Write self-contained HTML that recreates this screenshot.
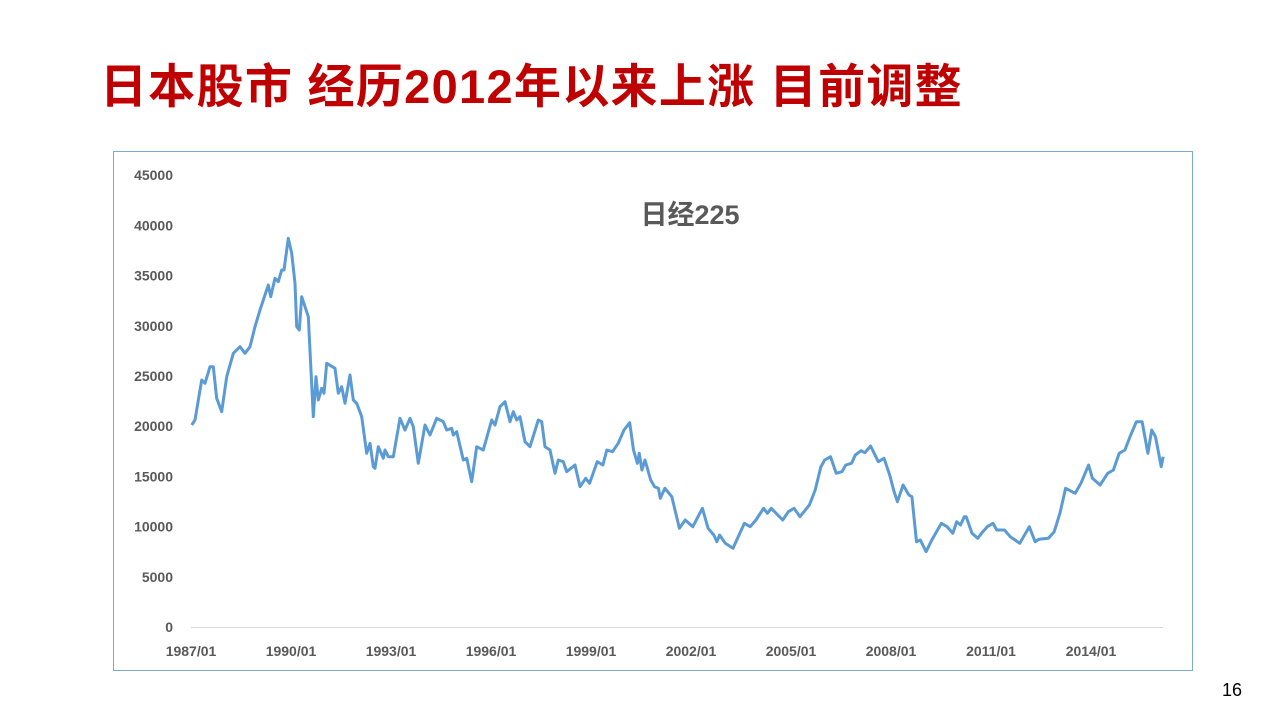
<!DOCTYPE html>
<html><head><meta charset="utf-8"><style>
body{margin:0;width:1280px;height:720px;background:#fff;position:relative;overflow:hidden;font-family:"Liberation Sans","Noto Sans CJK SC",sans-serif}
.t{position:absolute;left:100px;top:48px;font-size:47px;font-weight:bold;color:#C00000;white-space:nowrap;letter-spacing:1.3px}
.pg{position:absolute;left:1222px;top:680px;font-size:18px;color:#000}
</style></head><body>
<div class="t">日本股市 经历2012年以来上涨 目前调整</div>
<svg width="1280" height="720" style="position:absolute;left:0;top:0" id="s">
<rect x="113.5" y="151.5" width="1079" height="519" fill="none" stroke="#7aaad0" stroke-width="1"/>
<line x1="191" y1="627.5" x2="1163" y2="627.5" stroke="#d9d9d9" stroke-width="1"/>
<text x="690" y="224" font-size="27" font-weight="bold" fill="#595959" text-anchor="middle" font-family="Liberation Sans,Noto Sans CJK SC,sans-serif">日经225</text>
<g id="ax" font-size="14" font-weight="bold" fill="#595959" font-family="Liberation Sans,sans-serif"></g>
<polyline id="pl" fill="none" stroke="#5b9bd5" stroke-width="3" stroke-linejoin="round"/>
</svg>
<div class="pg">16</div>
<script>
var ax=document.getElementById('ax'),h='';
for(var i=0;i<=9;i++){var y=627-i*50.2;h+='<text x="173" y="'+(y+5)+'" text-anchor="end">'+(i*5000)+'</text>';}
var yrs=['1987/01','1990/01','1993/01','1996/01','1999/01','2002/01','2005/01','2008/01','2011/01','2014/01'];
for(var i=0;i<yrs.length;i++){h+='<text x="'+(191+i*100)+'" y="656" text-anchor="middle">'+yrs[i]+'</text>';}
ax.innerHTML=h;
var z1=[35,615,45,600,65,480,75,490,90,440,100,440,110,535,125,575,140,470,160,400,180,380,195,400,210,380,225,320,240,270,265,195,272,230,285,175,295,185,305,150,312,150,325,55,335,100,345,190,350,320,358,330,365,230,385,290,400,590,408,470,415,540,425,505,432,520,440,430,465,445,475,520,485,500,495,550,510,465,520,540,530,550,545,590,560,700,570,670,580,740,585,745,595,680,610,715,615,690,625,710,640,710,660,595,675,630,690,595,700,620,715,730,735,615,750,645,770,595,790,605,800,630,815,625,820,645,830,635,850,720,860,715,875,785,890,680,910,690,935,600,945,615,960,560,975,545,990,605,1000,575,1010,600,1020,590,1035,665,1050,680,1075,600,1085,605,1095,680,1110,690,1125,760,1135,720,1150,725,1160,755,1185,735,1200,800];
var z2=[0,340,15,295,25,310,45,245,60,255,70,210,85,215,100,190,115,150,130,128,140,210,150,250,155,220,162,270,170,240,185,300,195,320,205,325,210,355,222,325,240,350,260,445,275,420,295,440,320,385,335,445,350,465,358,485,365,465,380,490,400,505,430,430,445,440,460,420,480,385,490,400,500,385,530,420,545,395,560,385,575,410,600,375,615,330,630,260,640,240,655,230,670,280,685,275,695,255,710,250,720,225,735,212,745,218,760,198,780,245,795,235,810,285,820,330,830,365,845,315,860,345,868,350,880,485,890,480,905,515,920,480,945,430,960,440,975,460,985,425,995,435,1005,410,1010,410,1025,460,1040,475,1050,460,1065,440,1080,430,1090,450,1110,450,1125,470,1150,490,1175,440,1190,485,1200,478,1225,475,1240,455,1255,400,1270,325,1295,340,1310,310,1330,255,1340,295,1360,315,1380,280,1395,270,1410,220,1425,210,1440,165,1455,125,1470,125,1485,220,1495,150,1505,170,1520,260,1525,230];
var p=[];
for(var i=0;i<z1.length;i+=2)p.push((180+z1[i]/3).toFixed(1)+','+(220+z1[i+1]/3).toFixed(1));
for(var i=2;i<z2.length;i+=2)p.push((580+z2[i]*0.3824).toFixed(1)+','+(380+z2[i+1]/3).toFixed(1));
document.getElementById('pl').setAttribute('points',p.join(' '));
</script>
</body></html>
